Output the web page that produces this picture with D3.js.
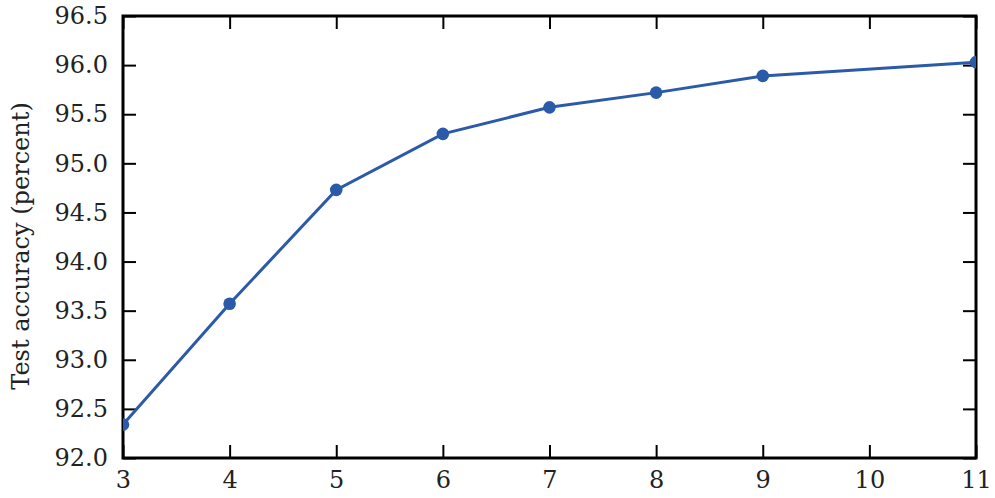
<!DOCTYPE html>
<html>
<head>
<meta charset="utf-8">
<script src="https://cdn.jsdelivr.net/npm/d3@7"></script>
<style>
  body { margin: 0; background: #fff; }
  svg text { font-family: "DejaVu Serif", serif; fill: #222; }
</style>
</head>
<body>
<div id="chart-area"></div>
<script>
// data
var layers = [3, 4, 5, 6, 7, 8, 9, 11];
var accuracy = [92.34, 93.57, 94.73, 95.30, 95.57, 95.72, 95.89, 96.03];
var xTicks = [3, 4, 5, 6, 7, 8, 9, 10, 11];
var yTicks = [92.0, 92.5, 93.0, 93.5, 94.0, 94.5, 95.0, 95.5, 96.0, 96.5];

var margin = {top: 16, right: 19, bottom: 40, left: 123},
  width = 995 - margin.left - margin.right,
  height = 498 - margin.top - margin.bottom;

var svg = d3.select("#chart-area")
  .append("svg")
  .attr("width", 995)
  .attr("height", 498)
  .append("g")
  .attr("transform", "translate(" + margin.left + "," + margin.top + ")");

var x = d3.scaleLinear().domain([3, 11]).range([0, width]);
var y = d3.scaleLinear().domain([92, 96.5]).range([height, 0]);

var tickLen = 13;
var fontSize = 24;

// axes with inward ticks
var axBottom = svg.append("g")
  .attr("transform", "translate(0," + height + ")")
  .call(d3.axisBottom(x).tickValues(xTicks).tickSizeInner(-tickLen).tickSizeOuter(0).tickPadding(13).tickFormat(d3.format("d")));
var axTop = svg.append("g")
  .call(d3.axisTop(x).tickValues(xTicks).tickSizeInner(-tickLen).tickSizeOuter(0).tickFormat(""));
var axLeft = svg.append("g")
  .call(d3.axisLeft(y).tickValues(yTicks).tickSizeInner(-tickLen).tickSizeOuter(0).tickPadding(15).tickFormat(d3.format(".1f")));
var axRight = svg.append("g")
  .attr("transform", "translate(" + width + ",0)")
  .call(d3.axisRight(y).tickValues(yTicks).tickSizeInner(-tickLen).tickSizeOuter(0).tickFormat(""));

[axBottom, axTop, axLeft, axRight].forEach(function(g) {
  g.attr("font-family", null);
  g.select(".domain").remove();
  g.selectAll(".tick line").attr("stroke", "#000").attr("stroke-width", 2);
  g.selectAll(".tick text").style("font-size", fontSize + "px").attr("fill", "#222");
});

// frame
svg.append("rect")
  .attr("x", 0).attr("y", 0)
  .attr("width", width).attr("height", height)
  .attr("fill", "none")
  .attr("stroke", "#000")
  .attr("stroke-width", 3);

var points = layers.map(function(d, i) { return {x: d, y: accuracy[i]}; });

svg.append("clipPath").attr("id", "clip")
  .append("rect").attr("width", width).attr("height", height);

var plot = svg.append("g").attr("clip-path", "url(#clip)");

plot.append("path")
  .datum(points)
  .attr("fill", "none")
  .attr("stroke", "#2a5aa8")
  .attr("stroke-width", 3)
  .attr("d", d3.line().x(function(d) { return x(d.x); }).y(function(d) { return y(d.y); }));

plot.selectAll("circle")
  .data(points)
  .enter()
  .append("circle")
  .attr("cx", function(d) { return x(d.x); })
  .attr("cy", function(d) { return y(d.y); })
  .attr("r", 6.3)
  .attr("fill", "#2a5aa8");

// y label
svg.append("text")
  .attr("text-anchor", "middle")
  .attr("transform", "translate(" + (-94) + "," + (height / 2 + 9) + ") rotate(-90)")
  .style("font-size", "24px")
  .text("Test accuracy (percent)");
</script>
</body>
</html>
